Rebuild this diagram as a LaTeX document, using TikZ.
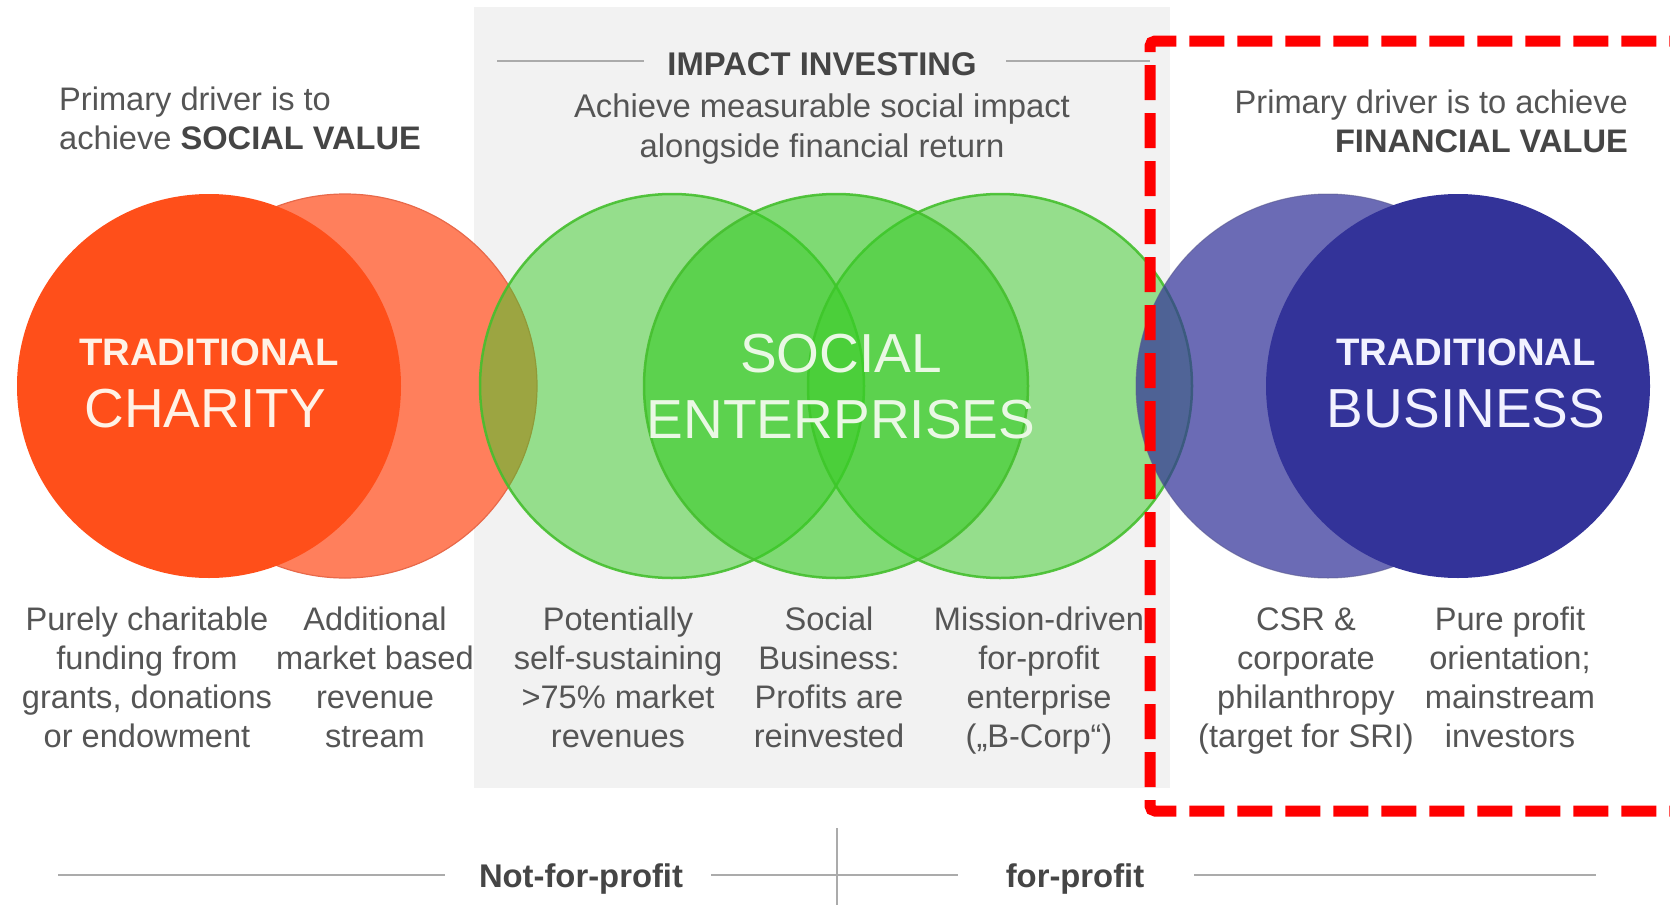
\documentclass[tikz,border=0pt]{standalone}
\usepackage{fontspec}
\setmainfont{Liberation Sans}
\definecolor{panelc}{HTML}{F2F2F2}
\definecolor{txtc}{HTML}{555555}
\definecolor{txtb}{HTML}{454545}
\definecolor{redD}{HTML}{FF4F1A}
\definecolor{redL}{HTML}{FF7F5C}
\definecolor{redLine}{HTML}{E8694A}
\definecolor{grn}{HTML}{3ACC28}
\definecolor{grnLine}{HTML}{45BF2E}
\definecolor{bluD}{HTML}{333399}
\definecolor{bluLine}{HTML}{5A5A90}
\definecolor{rulec}{HTML}{ABABAB}
\definecolor{seText}{HTML}{EAF8E4}
\definecolor{chText}{HTML}{FFF2E6}
\definecolor{buText}{HTML}{F2F2FF}
\newcommand{\cstack}[1]{\begin{tabular}[t]{@{}c@{}}#1\end{tabular}}
\newcommand{\lstack}[1]{\begin{tabular}[t]{@{}l@{}}#1\end{tabular}}
\newcommand{\rstack}[1]{\begin{tabular}[t]{@{}r@{}}#1\end{tabular}}
\begin{document}
\begin{tikzpicture}[x=1pt,y=-1pt,
  body/.style={text=txtc, inner sep=0pt, anchor=base, font=\fontsize{32.6}{39}\selectfont},
  head/.style={text=txtc, inner sep=0pt, anchor=base, font=\fontsize{32.8}{40}\selectfont},
  boldlbl/.style={text=txtb, inner sep=0pt, anchor=base, font=\bfseries\fontsize{32.8}{40}\selectfont},
  circ/.style={circle, minimum size=384pt, inner sep=0pt},
  greencirc/.style={circ, fill=grn, draw=grnLine, line width=2.5pt, fill opacity=0.5, draw opacity=0.9},
  smalltitle/.style={inner sep=0pt, anchor=base, font=\bfseries\fontsize{38.3}{42}\selectfont},
  bigtitle/.style={inner sep=0pt, anchor=base, font=\fontsize{55}{60}\selectfont},
  rulel/.style={draw=rulec, line width=2pt},
  hl/.style={red, line width=11pt, dash pattern=on 35pt off 13pt, dash phase=10pt, rounded corners=5pt}
]
\useasboundingbox (0,0) rectangle (1670,905);
\fill[white] (0,0) rectangle (1670,905);
% impact investing panel
\node[fill=panelc, minimum width=696pt, minimum height=781pt, inner sep=0pt, anchor=north west] (panel) at (474,7) {};
% circles
\node[circ, fill=redL, draw=redLine, line width=1.2pt] (cRedL) at (345,386) {};
\node[circ, fill=redD] (cRedD) at (209,386) {};
\node[greencirc] (cGL) at (672,386) {};
\node[greencirc] (cGR) at (1000,386) {};
\node[greencirc, fill opacity=0.62] (cGM) at (836,386) {};
\node[circ, fill=bluD, fill opacity=0.72, draw=bluLine, draw opacity=0.6, line width=1pt] (cBL) at (1328,386) {};
\node[circ, fill=bluD] (cBD) at (1458,386) {};
% circle labels
\node[smalltitle, text=chText] (trC) at (209,365) {TRADITIONAL};
\node[bigtitle, text=chText] (chC) at (205,427) {CHARITY};
\node[bigtitle, text=seText] (soS) at (841,372) {SOCIAL};
\node[bigtitle, text=seText] (enS) at (841,438) {ENTERPRISES};
\node[smalltitle, text=buText] (trB) at (1466,365) {TRADITIONAL};
\node[bigtitle, text=buText] (buB) at (1466,427) {BUSINESS};
% top texts
\node[body, anchor=base west] (pdL) at (59,110) {\lstack{Primary driver is to\\achieve \textbf{\color{txtb}SOCIAL VALUE}}};
\node[body, anchor=base east] (pdR) at (1628,113) {\rstack{Primary driver is to achieve\\\textbf{\color{txtb}FINANCIAL VALUE}}};
\node[boldlbl] (ii) at (822,75) {IMPACT INVESTING};
\coordinate (iiL1) at (497,61);
\coordinate (iiL2) at (644,61);
\coordinate (iiR1) at (1006,61);
\coordinate (iiR2) at (1150,61);
\draw[rulel] (iiL1) -- (iiL2);
\draw[rulel] (iiR1) -- (iiR2);
\node[head] (ach) at (822,117) {\cstack{Achieve measurable social impact\\alongside financial return}};
% bottom descriptions
\node[body] (d1) at (147,630) {\cstack{Purely charitable\\funding from\\grants, donations\\or endowment}};
\node[body] (d2) at (375,630) {\cstack{Additional\\market based\\revenue\\stream}};
\node[body] (d3) at (618,630) {\cstack{Potentially\\self-sustaining\\>75\% market\\revenues}};
\node[body] (d4) at (829,630) {\cstack{Social\\Business:\\Profits are\\reinvested}};
\node[body] (d5) at (1039,630) {\cstack{Mission-driven\\for-profit\\enterprise\\(„B-Corp“)}};
\node[body] (d6) at (1306,630) {\cstack{CSR \&\\corporate\\philanthropy\\(target for SRI)}};
\node[body] (d7) at (1510,630) {\cstack{Pure profit\\orientation;\\mainstream\\investors}};
% bottom axis
\node[boldlbl] (nfp) at (581,887) {Not-for-profit};
\node[boldlbl] (fp) at (1075,887) {for-profit};
\coordinate (axL) at (58,875);
\coordinate (axR) at (1596,875);
\coordinate (tickT) at (837,828);
\coordinate (tickB) at (837,905);
\draw[rulel] (axL) -- (445,875);
\draw[rulel] (711,875) -- (958,875);
\draw[rulel] (1194,875) -- (axR);
\draw[rulel] (tickT) -- (tickB);
% red highlight
\coordinate (hlMid) at (1150,426);
\draw[hl] (hlMid) -- (1150,41) -- (1720,41);
\draw[hl] (hlMid) -- (1150,811) -- (1720,811);
\end{tikzpicture}
\end{document}
